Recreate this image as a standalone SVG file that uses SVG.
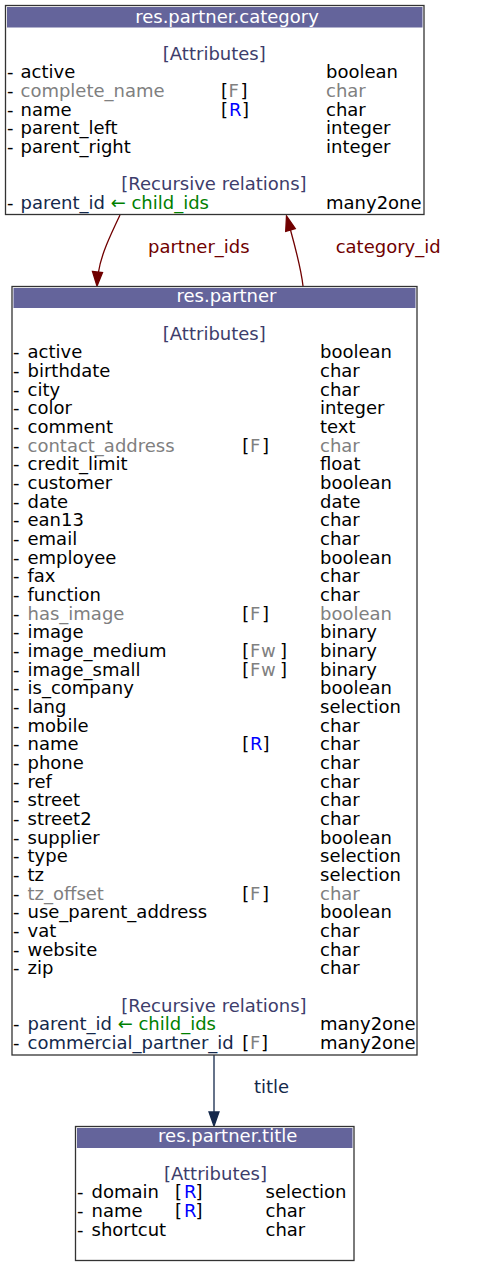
<svg xmlns="http://www.w3.org/2000/svg" width="492" height="1267" viewBox="0 0 492 1267">
<style>
text{font-family:"DejaVu Sans","Liberation Sans",sans-serif;font-size:18px;fill:#000}
.h{fill:#fff;text-anchor:middle}
.s{fill:#3d3d6b;text-anchor:middle}
.g{fill:#808080}
.b{fill:#0000ff}
.n{fill:#14284b}
.gr{fill:#008000}
.box{fill:#fff;stroke:#333;stroke-width:1.3}
.hd{fill:#64649b}
.red{fill:none;stroke:#700000;stroke-width:1.3}
.redh{fill:#700000;stroke:#700000;stroke-width:1.3}
.rl{fill:#700000}
.blu{fill:none;stroke:#14284b;stroke-width:1.3}
.bluh{fill:#14284b;stroke:#14284b;stroke-width:1.3}
</style>
<rect width="492" height="1267" fill="#fff"/>
<g id="connectors">
<path class="red" d="M120,215 C110,236 101,255 98.5,272"/>
<polygon class="redh" points="92.5,271.5 102.5,272.5 97,286"/>
<text class="rl" x="198.8" y="253" text-anchor="middle">partner_ids</text>
<path class="red" d="M303,286 C301,268 296,250 290.5,230"/>
<polygon class="redh" points="285.7,231.4 295.3,228.6 286.5,216"/>
<text class="rl" x="335.7" y="253">category_id</text>
<path class="blu" d="M214,1055 L214,1112"/>
<polygon class="bluh" points="209,1112 219,1112 214,1126"/>
<text class="n" x="254" y="1093">title</text>
</g>
<g id="res.partner.category">
<rect class="box" x="5.5" y="5.5" width="418.5" height="209"/>
<rect class="hd" x="7" y="7" width="415.5" height="20.5"/>
<text class="h" x="227" y="22.5">res.partner.category</text>
<text class="s" x="214.3" y="59.5">[Attributes]</text>
<text x="7" y="78.2">-</text><text x="20.5" y="78.2">active</text><text x="326" y="78.2">boolean</text>
<text x="7" y="96.9">-</text><text class="g" x="20.5" y="96.9">complete_name</text><text x="221 228.5 240.5" y="96.9">[<tspan class="g">F</tspan>]</text><text class="g" x="326" y="96.9">char</text>
<text x="7" y="115.6">-</text><text x="20.5" y="115.6">name</text><text x="221 229 242" y="115.6">[<tspan class="b">R</tspan>]</text><text x="326" y="115.6">char</text>
<text x="7" y="134.3">-</text><text x="20.5" y="134.3">parent_left</text><text x="326" y="134.3">integer</text>
<text x="7" y="153">-</text><text x="20.5" y="153">parent_right</text><text x="326" y="153">integer</text>
<text class="s" x="214" y="190.4">[Recursive relations]</text>
<text x="7" y="209">-</text><text x="20.5" y="209"><tspan class="n">parent_id</tspan><tspan class="gr"> ← child_ids</tspan></text><text x="326" y="209">many2one</text>
</g>
<g id="res.partner">
<rect class="box" x="12" y="286.5" width="405" height="768.5"/>
<rect class="hd" x="13.5" y="288" width="402" height="20"/>
<text class="h" x="226.5" y="301.7">res.partner</text>
<text class="s" x="214.3" y="340">[Attributes]</text>
<text x="13" y="358.3">-</text><text x="27.5" y="358.3">active</text><text x="320" y="358.3">boolean</text>
<text x="13" y="377">-</text><text x="27.5" y="377">birthdate</text><text x="320" y="377">char</text>
<text x="13" y="395.7">-</text><text x="27.5" y="395.7">city</text><text x="320" y="395.7">char</text>
<text x="13" y="414.3">-</text><text x="27.5" y="414.3">color</text><text x="320" y="414.3">integer</text>
<text x="13" y="433">-</text><text x="27.5" y="433">comment</text><text x="320" y="433">text</text>
<text x="13" y="451.7">-</text><text class="g" x="27.5" y="451.7">contact_address</text><text x="242.3 250 262" y="451.7">[<tspan class="g">F</tspan>]</text><text class="g" x="320" y="451.7">char</text>
<text x="13" y="470.3">-</text><text x="27.5" y="470.3">credit_limit</text><text x="320" y="470.3">float</text>
<text x="13" y="489">-</text><text x="27.5" y="489">customer</text><text x="320" y="489">boolean</text>
<text x="13" y="507.7">-</text><text x="27.5" y="507.7">date</text><text x="320" y="507.7">date</text>
<text x="13" y="526.3">-</text><text x="27.5" y="526.3">ean13</text><text x="320" y="526.3">char</text>
<text x="13" y="545">-</text><text x="27.5" y="545">email</text><text x="320" y="545">char</text>
<text x="13" y="563.7">-</text><text x="27.5" y="563.7">employee</text><text x="320" y="563.7">boolean</text>
<text x="13" y="582.3">-</text><text x="27.5" y="582.3">fax</text><text x="320" y="582.3">char</text>
<text x="13" y="601">-</text><text x="27.5" y="601">function</text><text x="320" y="601">char</text>
<text x="13" y="619.7">-</text><text class="g" x="27.5" y="619.7">has_image</text><text x="242.3 250 262" y="619.7">[<tspan class="g">F</tspan>]</text><text class="g" x="320" y="619.7">boolean</text>
<text x="13" y="638.3">-</text><text x="27.5" y="638.3">image</text><text x="320" y="638.3">binary</text>
<text x="13" y="657">-</text><text x="27.5" y="657">image_medium</text><text x="242.3 250 261 280" y="657">[<tspan class="g">Fw</tspan>]</text><text x="320" y="657">binary</text>
<text x="13" y="675.7">-</text><text x="27.5" y="675.7">image_small</text><text x="242.3 250 261 280" y="675.7">[<tspan class="g">Fw</tspan>]</text><text x="320" y="675.7">binary</text>
<text x="13" y="694.3">-</text><text x="27.5" y="694.3">is_company</text><text x="320" y="694.3">boolean</text>
<text x="13" y="713">-</text><text x="27.5" y="713">lang</text><text x="320" y="713">selection</text>
<text x="13" y="731.7">-</text><text x="27.5" y="731.7">mobile</text><text x="320" y="731.7">char</text>
<text x="13" y="750.3">-</text><text x="27.5" y="750.3">name</text><text x="242.3 250 262.5" y="750.3">[<tspan class="b">R</tspan>]</text><text x="320" y="750.3">char</text>
<text x="13" y="769">-</text><text x="27.5" y="769">phone</text><text x="320" y="769">char</text>
<text x="13" y="787.7">-</text><text x="27.5" y="787.7">ref</text><text x="320" y="787.7">char</text>
<text x="13" y="806.3">-</text><text x="27.5" y="806.3">street</text><text x="320" y="806.3">char</text>
<text x="13" y="825">-</text><text x="27.5" y="825">street2</text><text x="320" y="825">char</text>
<text x="13" y="843.7">-</text><text x="27.5" y="843.7">supplier</text><text x="320" y="843.7">boolean</text>
<text x="13" y="862.3">-</text><text x="27.5" y="862.3">type</text><text x="320" y="862.3">selection</text>
<text x="13" y="881">-</text><text x="27.5" y="881">tz</text><text x="320" y="881">selection</text>
<text x="13" y="899.7">-</text><text class="g" x="27.5" y="899.7">tz_offset</text><text x="242.3 250 262" y="899.7">[<tspan class="g">F</tspan>]</text><text class="g" x="320" y="899.7">char</text>
<text x="13" y="918.3">-</text><text x="27.5" y="918.3">use_parent_address</text><text x="320" y="918.3">boolean</text>
<text x="13" y="937">-</text><text x="27.5" y="937">vat</text><text x="320" y="937">char</text>
<text x="13" y="955.7">-</text><text x="27.5" y="955.7">website</text><text x="320" y="955.7">char</text>
<text x="13" y="974.3">-</text><text x="27.5" y="974.3">zip</text><text x="320" y="974.3">char</text>
<text class="s" x="214" y="1011.7">[Recursive relations]</text>
<text x="13" y="1030.3">-</text><text x="27.5" y="1030.3"><tspan class="n">parent_id</tspan><tspan class="gr"> ← child_ids</tspan></text><text x="320" y="1030.3">many2one</text>
<text x="13" y="1049">-</text><text class="n" x="27.5" y="1049">commercial_partner_id</text><text x="242.3 250 261" y="1049">[<tspan class="g">F</tspan>]</text><text x="320" y="1049">many2one</text>
</g>
<g id="res.partner.title">
<rect class="box" x="75.5" y="1126.5" width="278.5" height="134"/>
<rect class="hd" x="77" y="1128" width="275.5" height="20"/>
<text class="h" x="227.7" y="1141.7">res.partner.title</text>
<text class="s" x="215.5" y="1179.6">[Attributes]</text>
<text x="77" y="1198.4">-</text><text x="91.5" y="1198.4">domain</text><text x="175 184 195.5" y="1198.4">[<tspan class="b">R</tspan>]</text><text x="265.5" y="1198.4">selection</text>
<text x="77" y="1217.1">-</text><text x="91.5" y="1217.1">name</text><text x="175 184 195.5" y="1217.1">[<tspan class="b">R</tspan>]</text><text x="265.5" y="1217.1">char</text>
<text x="77" y="1235.8">-</text><text x="91.5" y="1235.8">shortcut</text><text x="265.5" y="1235.8">char</text>
</g>
</svg>
